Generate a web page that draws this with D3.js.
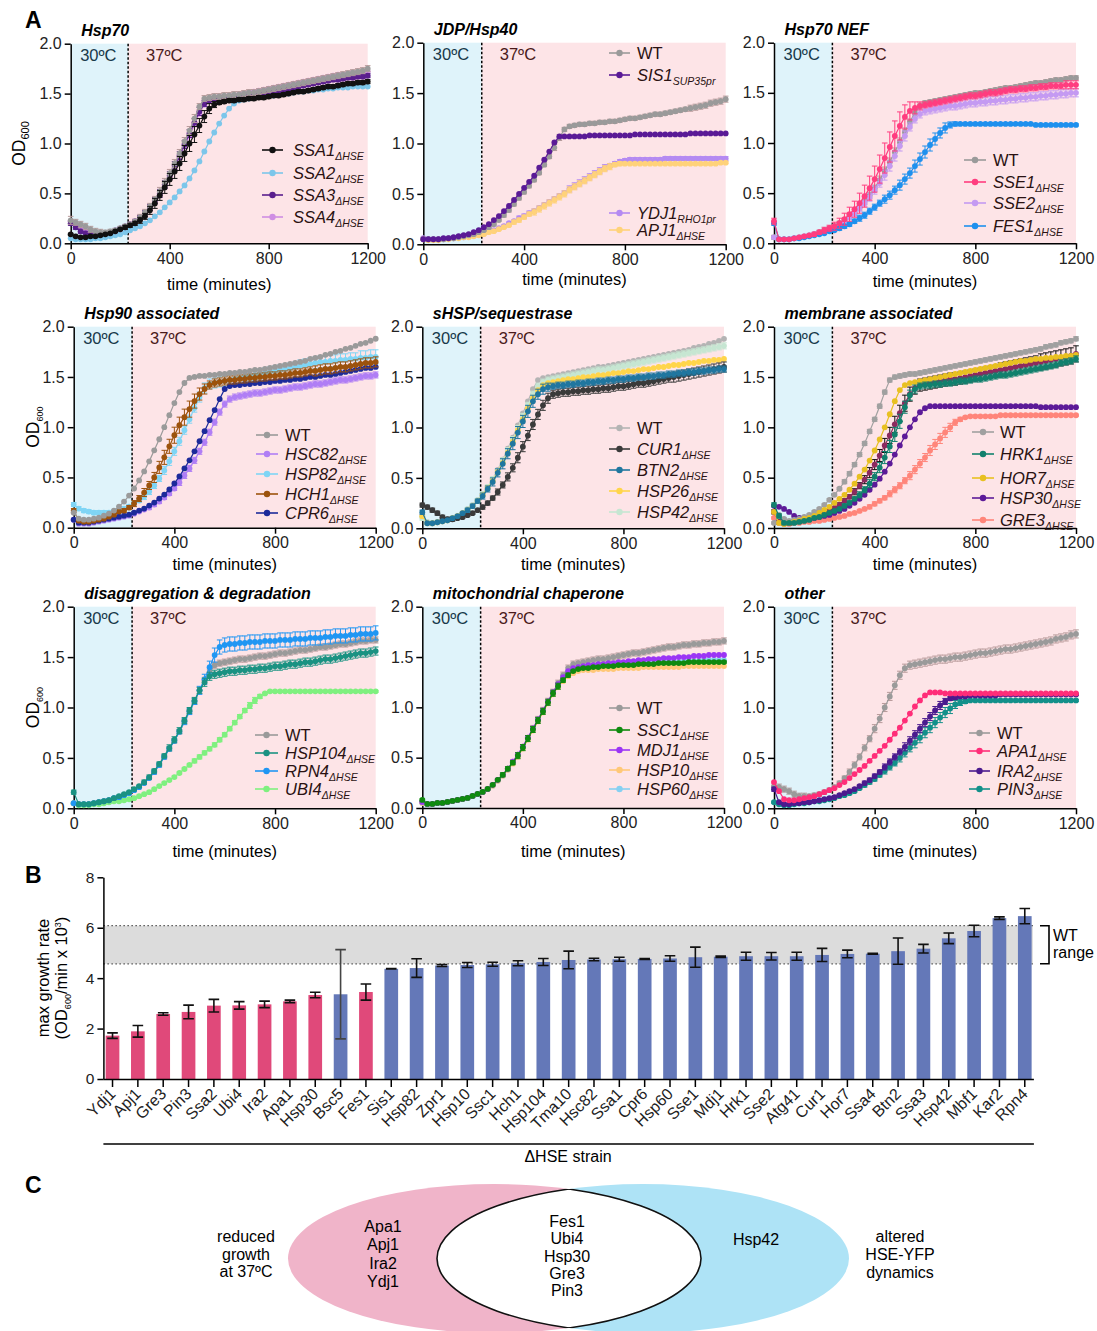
<!DOCTYPE html>
<html><head><meta charset="utf-8">
<script src="https://cdn.jsdelivr.net/npm/d3@7"></script>
<style>
body{margin:0;background:#fff}
svg{display:block}
text{font-family:"Liberation Sans",Arial,Helvetica,sans-serif}
</style>
</head><body>
<svg id="c" width="1097" height="1331"></svg>
<script>
// ---------------- DATA (OD600 x100, sampled every 20 min) ----------------
const timeMin = d3.range(0, 1201, 20);
const shiftTime = 232;

// Hsp70
const hsp70_WT = [23,21,19,17,14,12,11,11,12,13, 15,17,19,22,26,31,37,44,52,61, 70,80,90,102,113,125,137,145,146,147, 147,148,148,149,149,150,151,151,152,153, 154,155,156,157,158,159,160,161,162,163, 164,165,166,167,168,169,170,171,172,173, 175];
const hsp70_SSA1 = [9,7,6,6,7,7,8,9,10,12, 14,16,18,20,23,27,33,40,48,56, 64,72,80,90,100,109,118,127,135,139, 141,142,143,143,144,144,145,145,146,146, 147,148,148,149,150,151,152,152,153,154, 155,156,157,157,158,159,160,160,161,161, 162];
const hsp70_SSA2 = [5,4,4,4,4,5,5,6,7,8, 9,11,13,15,17,20,23,27,31,36, 41,46,52,58,65,73,82,92,102,111, 120,128,135,140,143,144,145,146,147,147, 148,148,149,150,150,151,152,152,153,153, 154,154,155,155,156,156,156,157,157,157, 157];
const hsp70_SSA3 = [20,16,12,10,9,9,9,10,11,13, 15,17,19,22,26,30,36,43,50,59, 68,78,88,99,110,121,132,140,143,144, 145,146,146,147,147,148,149,149,150,151, 152,152,153,154,155,156,157,158,159,160, 161,162,163,164,164,165,166,166,167,167, 168];
const hsp70_SSA4 = [22,19,16,13,11,10,10,10,11,12, 14,16,19,22,25,30,35,42,49,57, 66,76,86,97,108,119,130,139,144,146, 147,147,148,148,149,150,151,152,153,154, 155,156,157,158,159,160,161,162,163,164, 165,166,167,168,169,169,170,171,171,172, 172];
// JDP/Hsp40
const hsp40_WT = [5,5,5,5,5,6,6,7,8,9, 10,12,14,17,20,24,29,34,40,46, 52,58,64,71,79,87,96,106,114,117, 118,119,119,120,120,121,121,122,122,123, 124,125,125,126,127,128,129,129,130,131, 132,133,134,135,136,137,138,140,141,142, 144];
const hsp40_SIS1 = [5,5,5,5,6,6,7,8,9,10, 12,14,17,20,24,28,33,38,44,50, 56,62,68,76,84,92,101,107,107,107, 107,107,107,108,108,108,108,108,108,108, 108,108,109,109,109,109,109,109,109,109, 109,109,109,110,110,110,110,110,110,110, 110];
const hsp40_YDJ1 = [6,5,5,5,5,6,6,7,7,8, 9,10,11,13,14,16,18,21,23,26, 28,31,33,36,39,42,45,48,51,55, 58,61,64,67,70,73,76,78,80,82, 83,84,84,84,84,84,84,84,85,85, 85,85,85,85,85,85,85,85,85,85, 85];
const hsp40_APJ1 = [5,4,4,4,5,5,6,6,7,7, 8,9,10,12,13,15,17,19,22,24, 27,30,32,35,38,41,44,47,50,54, 57,60,63,66,69,72,75,77,79,80, 80,80,80,80,80,80,80,80,80,80, 80,80,80,80,80,80,80,80,80,81, 81];
// Hsp70 NEF
const nef_WT = [6,4,4,4,5,6,7,8,9,11, 13,15,17,20,23,27,31,36,42,48, 55,63,72,81,91,101,111,121,130,137, 140,141,142,143,144,145,146,147,148,149, 150,150,151,152,153,154,155,155,156,157, 158,159,160,160,161,162,163,163,164,165, 165];
const nef_SSE1 = [22,4,4,4,5,6,7,8,9,11, 13,15,17,20,24,29,34,40,47,55, 64,74,85,96,107,117,126,132,135,137, 138,139,140,141,142,143,144,145,146,147, 147,148,149,150,150,151,152,153,153,154, 154,155,155,156,156,157,157,157,158,158, 158];
const nef_SSE2 = [6,4,4,4,5,6,7,8,9,10, 12,14,16,19,22,26,30,35,40,46, 53,60,68,77,87,97,107,116,124,129, 132,133,134,135,136,137,137,138,139,140, 140,141,141,142,142,143,143,144,144,145, 145,146,146,147,147,148,148,149,149,150, 150];
const nef_FES1 = [20,4,4,4,5,5,6,7,8,9, 10,12,13,15,17,19,22,25,28,32, 36,40,44,48,53,58,64,70,77,84, 91,98,104,110,115,118,119,119,119,119, 119,119,119,119,119,119,119,119,119,119, 119,119,118,118,118,118,118,118,118,118, 118];
// Hsp90 associated
const hsp90_WT = [15,9,8,8,9,10,12,14,17,21, 26,32,39,47,56,66,77,88,100,112, 124,135,144,149,150,151,151,152,152,153, 153,154,154,155,155,156,157,157,158,159, 160,161,162,163,164,165,166,168,169,170, 172,173,175,176,178,179,181,183,184,186, 188];
const hsp90_HSC82 = [8,4,4,4,5,6,7,8,9,10, 11,12,14,16,18,20,23,26,30,34, 39,45,52,59,67,76,85,95,105,115, 123,128,130,131,132,133,134,134,135,136, 137,137,138,139,140,140,141,142,143,143, 144,145,146,147,147,148,149,150,151,151, 152];
const hsp90_HSP82 = [23,19,17,16,15,15,15,15,16,17, 19,21,24,27,31,36,42,49,57,66, 76,86,97,108,119,130,139,143,144,145, 146,147,148,149,150,151,152,153,154,155, 156,157,158,159,160,161,162,163,164,165, 165,166,166,167,167,168,168,169,169,170, 170];
const hsp90_HCH1 = [17,7,6,6,7,8,9,11,13,16, 17,20,24,29,35,42,50,60,70,81, 92,102,110,118,126,133,138,142,144,145, 146,147,147,148,148,149,149,150,150,151, 151,152,152,153,154,154,155,156,156,157, 158,158,159,160,160,161,162,163,164,164, 165];
const hsp90_CPR6 = [8,5,5,5,6,7,8,9,10,11, 12,13,15,17,19,22,25,29,33,38, 44,51,59,67,76,86,96,107,117,128, 138,141,142,142,143,143,144,144,145,145, 146,146,147,147,148,148,149,150,150,151, 152,152,153,154,155,156,157,158,159,159, 160];
// sHSP/sequestrase
const shsp_WT = [12,6,5,6,7,8,10,12,15,19, 23,28,34,41,49,58,68,79,90,102, 114,126,138,147,149,150,151,152,153,154, 155,156,157,158,159,160,160,161,162,163, 164,165,166,167,168,169,170,171,172,173, 174,175,176,177,179,180,181,183,184,186, 188];
const shsp_CUR1 = [23,21,18,15,11,9,9,10,11,13, 15,18,21,25,30,36,43,51,60,70, 81,92,103,113,122,129,133,134,135,135, 136,136,137,137,138,138,139,139,140,141, 141,142,143,144,144,145,146,147,148,149, 150,151,152,153,154,155,156,157,158,159, 160];
const shsp_BTN2 = [16,5,5,6,7,8,10,12,15,18, 22,27,32,39,46,55,64,74,84,95, 106,116,126,133,138,140,141,142,142,143, 143,144,144,145,145,146,146,147,147,148, 148,149,149,150,150,151,151,152,152,153, 153,154,154,155,155,156,156,157,157,158, 158];
const shsp_HSP26 = [12,5,5,6,7,8,10,12,15,18, 22,27,33,40,47,56,65,75,86,97, 108,119,129,137,142,144,145,146,147,148, 148,149,150,150,151,152,152,153,154,154, 155,156,156,157,158,158,159,160,160,161, 162,162,163,164,164,165,166,166,167,167, 168];
const shsp_HSP42 = [10,6,5,6,7,8,10,12,15,19, 23,28,34,41,49,57,67,77,88,99, 111,122,133,141,145,147,148,149,150,151, 152,153,154,155,156,157,157,158,159,160, 161,162,163,164,165,166,167,168,169,170, 171,172,173,174,175,176,177,178,179,180, 181];
// membrane associated
const mem_WT = [5,13,9,7,8,9,11,13,16,19, 23,28,33,39,46,54,63,73,84,96, 108,121,135,147,150,151,152,153,153,154, 155,156,157,158,159,160,161,162,163,164, 165,166,167,168,169,170,171,172,173,174, 175,176,177,178,180,181,182,184,185,186, 188];
const mem_other = [16,6,5,5,6,7,8,9,11,13, 15,17,20,23,27,31,36,42,48,55, 63,72,82,92,103,114,124,133,139,142, 143,144,145,146,147,148,148,149,150,151, 152,153,154,155,156,157,158,159,160,161, 162,163,164,165,166,167,168,169,170,171, 173];
const mem_HRK1 = [23,12,5,5,5,6,7,8,10,11, 13,15,17,19,22,25,29,33,38,44, 51,60,70,81,93,106,120,132,138,141, 142,142,143,143,144,144,145,146,146,147, 148,148,149,150,151,152,152,153,154,155, 156,157,158,159,160,161,162,164,165,166, 168];
const mem_HOR7 = [16,5,4,5,6,7,9,10,12,15, 18,21,25,29,33,38,44,51,58,67, 77,88,100,113,126,137,142,144,145,146, 147,148,149,150,151,152,153,154,155,156, 157,158,159,160,161,162,163,164,165,166, 166,167,168,168,169,169,170,170,171,171, 172];
const mem_HSP30 = [22,21,19,16,12,10,9,9,10,11, 12,13,15,17,19,22,25,29,33,38, 43,49,56,64,73,82,91,100,108,115, 119,121,121,121,121,121,121,121,121,121, 121,121,121,121,121,121,121,121,121,121, 121,121,121,120,120,120,120,120,120,120, 120];
const mem_GRE3 = [10,5,4,4,5,5,6,6,7,7, 8,9,10,11,12,14,15,17,19,21, 24,27,30,34,38,42,47,52,58,64, 70,77,83,89,95,100,105,108,110,111, 111,111,111,111,111,112,112,112,112,112, 112,112,112,112,112,112,112,112,112,112, 112];
// disaggregation & degradation
const deg_WT = [5,4,4,4,5,6,7,8,10,11, 13,15,18,21,25,30,36,43,51,59, 67,76,86,96,106,117,127,135,142,144, 145,146,147,148,148,149,150,151,151,152, 153,154,154,155,156,157,157,158,159,160, 160,161,162,163,163,164,165,166,166,167, 167];
const deg_HSP104 = [16,4,4,4,5,6,7,8,10,12, 14,16,19,22,26,31,37,44,52,60, 68,77,87,97,107,117,125,131,133,134, 135,136,136,137,137,138,138,139,139,140, 141,141,142,143,143,144,145,145,146,147, 148,148,149,150,151,152,153,154,154,155, 156];
const deg_RPN4 = [5,4,4,4,5,6,7,8,10,11, 13,15,18,21,25,30,36,43,51,59, 67,76,86,96,106,117,128,140,152,160, 162,163,163,164,164,165,165,165,166,166, 166,167,167,167,168,168,168,169,169,169, 170,170,171,171,171,172,172,173,173,173, 174];
const deg_UBI4 = [5,3,3,3,4,4,5,6,7,7, 8,9,10,12,14,16,19,22,25,28, 31,35,39,43,47,51,55,59,63,68, 73,79,85,91,97,102,107,111,114,116, 116,116,116,116,116,116,116,116,116,116, 116,116,116,116,116,116,116,116,116,116, 116];
// mitochondrial chaperone
const mito_WT = [6,4,4,5,5,6,7,8,9,10, 12,14,16,19,23,28,33,39,46,53, 61,70,79,88,97,106,115,124,132,139, 143,144,145,146,147,148,148,149,150,151, 152,153,154,154,155,156,157,158,159,160, 160,161,162,162,163,163,164,164,165,165, 166];
const mito_SSC1 = [8,4,4,5,5,6,7,8,9,10, 12,14,16,19,23,28,33,39,45,52, 60,69,78,87,96,105,114,121,127,132, 136,138,139,139,140,140,141,141,141,142, 142,142,142,143,143,143,143,144,144,144, 144,144,144,145,145,145,145,145,145,145, 145];
const mito_MDJ1 = [6,4,4,5,5,6,7,8,9,10, 12,14,16,19,23,28,33,39,46,53, 61,70,79,88,97,106,115,123,130,136, 139,140,141,142,142,143,143,144,144,145, 145,146,146,147,147,148,148,148,149,149, 149,150,150,150,151,151,151,152,152,152, 152];
const mito_HSP10 = [5,4,4,5,5,6,7,8,9,10, 12,14,16,19,22,27,32,38,44,51, 59,68,77,86,95,104,113,120,126,131, 134,136,137,137,137,138,138,138,138,139, 139,139,139,139,140,140,140,140,140,140, 140,140,141,141,141,141,141,141,141,141, 141];
const mito_HSP60 = [5,4,4,5,5,6,7,8,9,10, 12,14,16,19,22,27,32,38,45,52, 60,69,78,87,96,105,114,121,127,132, 135,137,138,139,139,140,140,141,141,142, 142,142,143,143,143,144,144,144,145,145, 145,145,146,146,146,146,147,147,147,147, 147];
// other
const oth_WT = [22,21,19,17,14,12,12,12,13,14, 16,18,21,25,30,36,43,51,60,69, 79,89,100,111,122,132,139,142,143,144, 145,146,147,148,148,149,150,150,151,152, 153,154,154,155,156,157,158,158,159,160, 161,162,163,164,165,166,168,169,170,172, 173];
const oth_APA1 = [26,17,9,8,8,9,10,11,12,14, 16,18,20,23,26,30,34,38,42,47, 52,57,62,68,74,80,87,94,101,107, 112,115,115,115,114,114,114,114,114,114, 114,114,114,114,114,114,114,114,114,114, 114,114,114,114,114,114,114,114,114,114, 114];
const oth_IRA2 = [19,6,4,4,5,5,6,6,7,8, 9,10,11,13,15,17,19,22,25,28, 32,36,41,46,51,56,61,67,73,79, 85,91,97,102,106,109,110,111,111,112, 112,112,112,112,112,113,113,113,113,113, 113,113,113,113,113,113,113,113,113,113, 113];
const oth_PIN3 = [6,4,3,3,4,5,5,6,7,7, 8,9,10,12,13,15,17,20,23,26, 29,33,37,41,45,50,55,60,65,70, 75,80,85,90,95,99,103,105,106,107, 107,107,107,107,107,107,107,107,107,107, 107,107,107,107,107,107,107,107,107,107, 107];

// error bars (SD x100)
const err_hsp70_WT = [4,3,3,3,3,3,3,2,2,2, 2,2,2,2,3,3,3,3,4,4, 4,4,4,4,4,4,3,3,3,3, 3,3,3,3,3,3,3,3,3,3, 3,3,3,3,3,3,3,3,3,3, 3,3,3,3,3,3,3,3,3,3, 3];
const err_hsp70_SSA1 = [1,1,1,1,1,1,1,1,1,1, 1,2,2,2,3,3,4,5,5,6, 6,7,7,8,8,8,7,6,5,3, 2,2,2,2,2,2,2,2,2,2, 2,2,2,2,2,2,2,2,2,2, 2,2,2,2,2,2,2,2,2,2, 2];
const err_hsp70_SSA3 = [2,2,2,2,1,1,1,1,1,1, 1,1,2,2,2,3,3,3,4,4, 4,4,4,4,4,4,4,3,3,2, 2,2,2,2,2,2,2,2,2,2, 2,2,2,2,2,2,2,2,2,2, 2,2,2,2,2,2,2,2,2,2, 2];
const err_hsp40_WT = [1,1,1,1,1,1,1,1,1,1, 1,1,1,1,1,1,2,2,2,2, 2,2,2,2,2,2,3,3,2,2, 2,2,2,2,2,2,2,2,2,2, 2,2,2,2,2,2,2,2,2,2, 2,2,2,3,3,3,3,3,3,3, 3];
const err_hsp40_YDJ1 = [1,1,1,1,1,1,1,1,1,1, 1,1,1,1,1,1,1,1,1,2, 2,2,2,2,2,2,2,2,2,3, 3,3,3,3,3,3,3,2,2,2, 2,2,2,2,2,2,2,2,2,2, 2,2,2,2,2,2,2,2,2,2, 2];
const err_hsp40_APJ1 = [1,1,1,1,1,1,1,1,1,1, 1,1,1,1,1,1,1,1,2,2, 2,2,3,3,3,3,3,3,3,3, 3,3,3,3,3,3,3,3,2,2, 1,1,1,1,1,1,1,1,1,1, 1,1,1,1,1,1,1,1,1,1, 1];
const err_nef_WT = [2,1,1,1,1,1,1,1,1,1, 1,1,2,2,2,2,3,3,3,3, 3,4,4,4,4,4,4,3,3,3, 2,2,2,2,2,2,2,2,2,2, 2,2,2,2,2,2,2,2,2,2, 2,2,2,2,2,2,2,2,2,2, 2];
const err_nef_SSE1 = [3,1,1,1,1,1,1,1,2,2, 3,3,4,5,6,7,8,10,11,12, 13,14,15,15,15,14,12,9,6,4, 3,3,3,3,3,3,3,3,3,3, 3,3,3,3,3,3,3,3,3,3, 3,3,3,3,3,3,3,3,4,4, 4];
const err_nef_SSE2 = [1,1,1,1,1,1,1,1,1,1, 1,1,1,2,2,2,3,3,3,4, 4,4,5,5,5,5,5,4,4,4, 4,4,4,4,4,4,4,4,4,4, 4,4,4,4,4,4,4,4,4,4, 4,4,4,4,4,4,4,4,4,4, 4];
const err_nef_FES1 = [2,1,1,1,1,1,1,1,1,1, 1,1,1,2,2,2,2,3,3,3, 3,3,4,4,4,5,5,5,6,6, 6,6,6,5,5,3,2,1,1,1, 1,1,1,1,1,1,1,1,1,1, 1,1,1,1,1,1,1,1,1,1, 1];
const err_hsp90_HCH1 = [2,1,1,1,1,1,1,1,1,1, 2,2,3,3,4,4,5,6,7,7, 8,8,8,8,7,6,5,4,4,4, 4,4,4,4,4,4,4,4,4,4, 4,4,4,4,4,4,4,4,5,5, 5,5,5,5,5,5,5,5,5,5, 5];
const err_hsp90_HSP82 = [2,2,2,2,2,2,2,2,2,2, 2,2,2,2,3,3,3,3,4,4, 4,4,4,4,4,5,5,5,5,5, 5,5,5,5,5,5,5,5,5,5, 5,5,5,5,5,6,6,6,6,6, 6,6,6,6,6,6,6,7,7,7, 7];
const err_hsp90_HSC82 = [1,1,1,1,1,1,1,1,1,1, 1,1,1,1,1,2,2,2,2,2, 2,3,3,3,3,3,3,3,3,3, 3,3,3,3,3,3,3,3,3,3, 3,3,3,3,3,3,3,3,3,3, 3,3,3,3,3,3,3,3,3,3, 3];
const err_shsp_CUR1 = [2,2,2,2,2,2,2,1,1,1, 1,1,2,2,2,3,3,4,4,5, 5,5,5,5,5,5,4,4,4,4, 4,4,4,4,4,4,4,4,4,4, 4,4,4,4,4,4,4,4,4,4, 5,5,5,5,5,5,5,5,5,5, 5];
const err_shsp_BTN2 = [2,1,1,1,1,1,1,1,1,2, 2,2,3,3,4,4,5,5,6,6, 6,6,6,5,5,4,3,3,3,3, 3,3,3,3,3,3,3,3,3,3, 3,3,3,3,3,3,3,3,3,3, 3,3,3,3,3,3,3,3,3,3, 3];
const err_shsp_HSP42 = [2,1,1,1,1,1,1,1,1,1, 1,1,2,2,2,2,3,3,3,3, 3,3,3,3,3,3,3,3,3,3, 3,3,3,3,3,3,3,3,3,3, 3,3,3,3,3,3,3,3,3,3, 3,3,3,3,3,3,3,3,3,3, 3];
const err_mem_WT = [1,1,1,1,1,1,1,1,1,1, 1,1,1,1,2,2,2,2,2,2, 2,2,2,2,2,2,2,2,2,2, 2,2,2,2,2,2,2,2,2,2, 2,2,2,2,2,2,2,2,2,2, 2,2,2,2,2,2,2,2,2,2, 2];
const err_mem_other = [2,2,2,2,2,2,1,1,1,1, 1,1,1,2,2,2,3,3,4,5, 5,6,7,8,8,8,8,7,6,6, 6,6,6,6,6,6,6,6,6,6, 6,6,6,6,6,7,7,7,7,7, 7,7,7,8,8,8,8,8,8,8, 8];
const err_mem_HRK1 = [2,2,1,1,1,1,1,1,1,1, 1,1,1,1,2,2,2,3,3,4, 4,5,6,6,7,7,6,5,4,3, 3,3,3,3,3,3,3,3,3,3, 3,3,3,3,3,3,3,3,3,3, 3,3,3,3,3,3,3,3,3,3, 3];
const err_mem_GRE3 = [1,1,1,1,1,1,1,1,1,1, 1,1,1,1,1,1,1,1,1,2, 2,2,2,3,3,3,3,4,4,4, 4,5,5,5,5,4,3,2,1,1, 1,1,1,1,1,1,1,1,1,1, 1,1,1,1,1,1,1,1,1,1, 1];
const err_deg_WT = [1,1,1,1,1,1,1,1,1,1, 1,1,1,1,1,1,2,2,2,2, 2,2,2,2,3,3,3,3,3,3, 3,3,3,3,3,3,3,3,3,3, 3,3,3,3,3,3,3,3,3,3, 3,3,3,3,3,3,3,3,3,3, 3];
const err_deg_HSP104 = [2,1,1,1,1,1,1,1,1,1, 1,1,1,1,2,2,2,2,2,3, 3,3,3,3,3,3,4,4,4,4, 4,4,4,4,4,4,4,4,4,4, 4,4,4,4,4,4,4,4,4,4, 4,4,4,4,4,4,4,4,4,4, 4];
const err_deg_RPN4 = [1,1,1,1,1,1,1,1,1,1, 1,1,1,1,1,1,2,2,2,2, 2,2,3,3,3,4,5,6,7,7, 7,7,7,7,7,7,7,7,7,7, 7,7,7,7,7,7,7,7,7,7, 7,7,7,7,7,7,7,7,7,7, 7];
const err_deg_UBI4 = [1,1,1,1,1,1,1,1,1,1, 1,1,1,1,1,1,1,1,1,1, 1,1,1,1,2,2,2,2,2,2, 2,2,2,2,2,3,3,2,1,1, 1,1,1,1,1,1,1,1,1,1, 1,1,1,1,1,1,1,1,1,1, 1];
const err_mito_WT = [1,1,1,1,1,1,1,1,1,1, 1,1,1,1,1,1,1,2,2,2, 2,2,3,3,3,3,3,3,3,3, 3,3,3,3,3,3,3,3,3,3, 3,3,3,3,3,3,3,3,3,3, 3,3,3,3,3,3,3,3,3,3, 3];
const err_mito_SSC1 = [1,1,1,1,1,1,1,1,1,1, 1,1,1,1,1,1,2,2,2,3, 3,3,3,3,3,3,3,3,2,2, 1,1,1,1,1,1,1,1,1,1, 1,1,1,1,1,1,1,1,1,1, 1,1,1,1,1,1,1,1,1,1, 1];
const err_oth_WT = [3,3,3,3,3,3,3,2,2,2, 2,2,2,2,2,3,3,3,3,3, 4,4,4,4,4,4,4,4,4,4, 4,4,4,4,4,4,4,4,4,4, 4,4,4,4,4,4,4,4,4,4, 4,4,4,4,4,4,4,4,4,4, 4];
const err_oth_IRA2 = [2,1,1,1,1,1,1,1,1,1, 1,1,1,1,1,1,1,1,2,2, 2,2,3,3,3,3,4,4,4,4, 4,4,4,4,3,2,2,1,1,1, 1,1,1,1,1,1,1,1,1,1, 1,1,1,1,1,1,1,1,1,1, 1];
const err_oth_PIN3 = [1,1,1,1,1,1,1,1,1,1, 1,1,1,1,1,1,1,1,2,2, 2,2,3,3,3,4,4,4,5,5, 5,5,5,5,5,5,4,3,2,1, 1,1,1,1,1,1,1,1,1,1, 1,1,1,1,1,1,1,1,1,1, 1];

// Panel B
const strains = ["Ydj1","Apj1","Gre3","Pin3","Ssa2","Ubi4","Ira2","Apa1","Hsp30","Bsc5","Fes1","Sis1","Hsp82","Zpr1","Hsp10","Ssc1","Hch1","Hsp104","Tma10","Hsc82","Ssa1","Cpr6","Hsp60","Sse1","Mdj1","Hrk1","Sse2","Atg41","Cur1","Hor7","Ssa4","Btn2","Ssa3","Hsp42","Mbf1","Kar2","Rpn4"];
const growthRate = [1.72,1.89,2.58,2.66,2.91,2.92,2.96,3.08,3.33,3.36,3.45,4.37,4.40,4.50,4.52,4.55,4.59,4.64,4.72,4.74,4.75,4.76,4.78,4.83,4.85,4.87,4.87,4.87,4.92,4.96,4.97,5.07,5.17,5.58,5.87,6.38,6.46];
const growthErr = [0.11,0.23,0.05,0.27,0.25,0.15,0.13,0.05,0.11,1.77,0.32,0.01,0.37,0.04,0.10,0.08,0.10,0.14,0.35,0.05,0.08,0.02,0.11,0.40,0.03,0.16,0.15,0.16,0.26,0.15,0.02,0.52,0.17,0.21,0.23,0.05,0.30];
const reducedGrowthStrains = ["Ydj1","Apj1","Gre3","Pin3","Ssa2","Ubi4","Ira2","Apa1","Hsp30","Fes1"];
const wtRange = [4.57, 6.08];
const yTicksB = [0,2,4,6,8];

// Panel C
const vennLeftOnly = ["Apa1","Apj1","Ira2","Ydj1"];
const vennBoth = ["Fes1","Ubi4","Hsp30","Gre3","Pin3"];
const vennRightOnly = ["Hsp42"];
const vennLeftLabel = ["reduced","growth","at 37ºC"];
const vennRightLabel = ["altered","HSE-YFP","dynamics"];

// ---------------- PANEL DEFINITIONS (layout + style) ----------------
const H = "ΔHSE";
const panels = [
 {title:"Hsp70", box:[70.7,367.7,43.7,243.3], od:{x:19,sub:11}, xlabY:290,
  series:[{v:hsp70_SSA2,c:"#7cc6ea"},{v:hsp70_SSA4,c:"#cf8ee3"},{v:hsp70_SSA3,c:"#5a1f8e",e:err_hsp70_SSA3},{v:hsp70_WT,c:"#9a9a9a",e:err_hsp70_WT,ec:"#b79a9a"},{v:hsp70_SSA1,c:"#111111",e:err_hsp70_SSA1}],
  legend:{lx0:262,lx1:283,tx:293,items:[["SSA1",H,"#111111",150],["SSA2",H,"#7cc6ea",173],["SSA3",H,"#5a1f8e",195],["SSA4",H,"#cf8ee3",217]]}},
 {title:"JDP/Hsp40", box:[423.3,725.7,42.7,244.3], xlabY:285,
  series:[{v:hsp40_YDJ1,c:"#b48af2",e:err_hsp40_YDJ1},{v:hsp40_APJ1,c:"#ffd27a",e:err_hsp40_APJ1},{v:hsp40_WT,c:"#9a9a9a",e:err_hsp40_WT,ec:"#b79a9a"},{v:hsp40_SIS1,c:"#5a1a96"}],
  legend:{lx0:609,lx1:630,tx:637,items:[["WT","","#9a9a9a",53],["SIS1","SUP35pr","#5a1a96",75],["YDJ1","RHO1pr","#b48af2",213],["APJ1",H,"#ffd27a",230]]}},
 {title:"Hsp70 NEF", box:[774,1076,42.7,243.3], xlabY:287,
  series:[{v:nef_WT,c:"#9a9a9a",e:err_nef_WT,ec:"#b79a9a"},{v:nef_SSE2,c:"#c49af2",e:err_nef_SSE2},{v:nef_FES1,c:"#1e90ee",e:err_nef_FES1},{v:nef_SSE1,c:"#ff3d7f",e:err_nef_SSE1}],
  legend:{lx0:964,lx1:986,tx:993,items:[["WT","","#9a9a9a",160],["SSE1",H,"#ff3d7f",182],["SSE2",H,"#c49af2",203],["FES1",H,"#1e90ee",226]]}},
 {title:"Hsp90 associated", box:[73.7,375.7,326.7,527.7], od:{x:33,sub:9}, xlabY:570,
  series:[{v:hsp90_HSP82,c:"#7fd5f5",e:err_hsp90_HSP82},{v:hsp90_HSC82,c:"#b07ef5",e:err_hsp90_HSC82},{v:hsp90_CPR6,c:"#1c2a9a"},{v:hsp90_HCH1,c:"#9c520c",e:err_hsp90_HCH1},{v:hsp90_WT,c:"#9a9a9a"}],
  legend:{lx0:256,lx1:278,tx:285,items:[["WT","","#9a9a9a",435],["HSC82",H,"#b07ef5",454],["HSP82",H,"#7fd5f5",474],["HCH1",H,"#9c520c",494],["CPR6",H,"#1c2a9a",513]]}},
 {title:"sHSP/sequestrase", box:[422.3,724,326.7,528.3], xlabY:570,
  series:[{v:shsp_WT,c:"#b4b4b4"},{v:shsp_HSP42,c:"#c6e6d2",e:err_shsp_HSP42},{v:shsp_HSP26,c:"#ffd54a"},{v:shsp_CUR1,c:"#3a3a3a",e:err_shsp_CUR1},{v:shsp_BTN2,c:"#20769f",e:err_shsp_BTN2}],
  legend:{lx0:609,lx1:630,tx:637,items:[["WT","","#b4b4b4",428],["CUR1",H,"#3a3a3a",449],["BTN2",H,"#20769f",470],["HSP26",H,"#ffd54a",491],["HSP42",H,"#c6e6d2",512]]}},
 {title:"membrane associated", box:[774,1076,326.7,528], xlabY:570,
  series:[{v:mem_GRE3,c:"#ff857a",e:err_mem_GRE3},{v:mem_HSP30,c:"#5c1a98"},{v:mem_other,c:"#8c2a5e",e:err_mem_other,ec:"#111111"},{v:mem_WT,c:"#a0a0a0",e:err_mem_WT},{v:mem_HOR7,c:"#e8c020"},{v:mem_HRK1,c:"#11806d",e:err_mem_HRK1}],
  legend:{lx0:972,lx1:994,tx:1000,items:[["WT","","#a0a0a0",432],["HRK1",H,"#11806d",454],["HOR7",H,"#e8c020",478],["HSP30",H,"#5c1a98",498],["GRE3",H,"#ff857a",520]]}},
 {title:"disaggregation & degradation", box:[73.7,375.7,606.7,808.3], od:{x:33,sub:9}, xlabY:857,
  series:[{v:deg_UBI4,c:"#7ff07f",e:err_deg_UBI4},{v:deg_WT,c:"#9a9a9a",e:err_deg_WT,ec:"#b79a9a"},{v:deg_RPN4,c:"#2096f3",e:err_deg_RPN4},{v:deg_HSP104,c:"#1a9282",e:err_deg_HSP104}],
  legend:{lx0:255,lx1:278,tx:285,items:[["WT","","#9a9a9a",735],["HSP104",H,"#1a9282",753],["RPN4",H,"#2096f3",771],["UBI4",H,"#7ff07f",789]]}},
 {title:"mitochondrial chaperone", box:[422.3,724,606.7,808], xlabY:857,
  series:[{v:mito_HSP60,c:"#86d0f2"},{v:mito_HSP10,c:"#ffc878"},{v:mito_WT,c:"#9a9a9a",e:err_mito_WT,ec:"#b79a9a"},{v:mito_MDJ1,c:"#9b35f5"},{v:mito_SSC1,c:"#0f8a0f",e:err_mito_SSC1}],
  legend:{lx0:609,lx1:630,tx:637,items:[["WT","","#9a9a9a",708],["SSC1",H,"#0f8a0f",730],["MDJ1",H,"#9b35f5",750],["HSP10",H,"#ffc878",770],["HSP60",H,"#86d0f2",789]]}},
 {title:"other", box:[774,1076,606.7,808.3], xlabY:857,
  series:[{v:oth_WT,c:"#9a9a9a",e:err_oth_WT,ec:"#b79a9a"},{v:oth_PIN3,c:"#12908a",e:err_oth_PIN3},{v:oth_IRA2,c:"#4b1a8e",e:err_oth_IRA2},{v:oth_APA1,c:"#ff2d78"}],
  legend:{lx0:969,lx1:990,tx:997,items:[["WT","","#9a9a9a",733],["APA1",H,"#ff2d78",751],["IRA2",H,"#4b1a8e",771],["PIN3",H,"#12908a",789]]}}
];

// ---------------- DRAW ----------------
const svg = d3.select("#c");
const styleAxis = (g, fs) => {
  g.select(".domain").attr("stroke","#000").attr("stroke-width",1.5);
  g.selectAll(".tick line").attr("stroke","#000").attr("stroke-width",1.5);
  g.selectAll(".tick text").attr("font-size",fs).attr("fill","#222").attr("font-family",'"Liberation Sans",Arial,sans-serif');
};

svg.append("text").attr("x",25).attr("y",28).attr("font-size",23).attr("font-weight","bold").text("A");

panels.forEach(p => {
  const [x0,x1,yT,yB] = p.box;
  const x = d3.scaleLinear().domain([0,1200]).range([x0,x1]);
  const y = d3.scaleLinear().domain([0,2]).range([yB,yT]);
  const g = svg.append("g");
  g.append("rect").attr("x",x(0)).attr("y",yT).attr("width",x(shiftTime)-x(0)).attr("height",yB-yT).attr("fill","#dff3fa");
  g.append("rect").attr("x",x(shiftTime)).attr("y",yT).attr("width",x(1200)-x(shiftTime)).attr("height",yB-yT).attr("fill","#fde4e7");
  g.append("line").attr("x1",x(shiftTime)).attr("x2",x(shiftTime)).attr("y1",yT).attr("y2",yB)
    .attr("stroke","#000").attr("stroke-width",1.5).attr("stroke-dasharray","2.5,2");
  g.append("text").attr("x",x0+9.5).attr("y",yT+17).attr("font-size",16.5).attr("fill","#17394a").text("30ºC");
  g.append("text").attr("x",x(shiftTime)+18).attr("y",yT+17).attr("font-size",16.5).attr("fill","#4a1a1a").text("37ºC");

  const ya = g.append("g").attr("transform",`translate(${x0},0)`)
    .call(d3.axisLeft(y).tickValues([0,0.5,1,1.5,2]).tickFormat(d3.format(".1f")).tickSize(6).tickSizeOuter(0).tickPadding(3));
  styleAxis(ya, 16);
  const xa = g.append("g").attr("transform",`translate(0,${yB})`)
    .call(d3.axisBottom(x).tickValues([0,400,800,1200]).tickFormat(d3.format("d")).tickSize(6).tickSizeOuter(0).tickPadding(3));
  styleAxis(xa, 16);

  p.series.forEach(s => {
    const pts = timeMin.map((t,i) => ({t, v:s.v[i]/100, e: s.e ? s.e[i]/100 : 0})).filter(d => !isNaN(d.v));
    const sg = g.append("g");
    if (s.e) {
      const ec = s.ec || s.c;
      pts.filter(d => d.e > 0).forEach(d => {
        const cx = x(d.t), ya1 = y(d.v + d.e), ya2 = y(Math.max(0, d.v - d.e));
        sg.append("path").attr("d",`M${cx},${ya1}V${ya2}M${cx-2.8},${ya1}H${cx+2.8}M${cx-2.8},${ya2}H${cx+2.8}`)
          .attr("stroke",ec).attr("stroke-width",1).attr("fill","none");
      });
    }
    sg.append("path").datum(pts).attr("d", d3.line().x(d=>x(d.t)).y(d=>y(d.v)))
      .attr("fill","none").attr("stroke",s.c).attr("stroke-width",1.2);
    sg.selectAll("circle").data(pts).join("circle")
      .attr("cx",d=>x(d.t)).attr("cy",d=>y(d.v)).attr("r",2.9).attr("fill",s.c);
  });

  // title
  g.append("text").attr("x",x0+10.5).attr("y",yT-7.5).attr("font-size",16).attr("font-weight","bold")
    .attr("font-style","italic").text(p.title);
  // x label
  g.append("text").attr("x",(x0+x1)/2).attr("y",p.xlabY).attr("text-anchor","middle").attr("font-size",16.5).text("time (minutes)");
  // y label
  if (p.od) {
    const t = g.append("text").attr("transform",`translate(${p.od.x},${(yT+yB)/2}) rotate(-90)`)
      .attr("text-anchor","middle").attr("font-size",17.5).attr("dy","0.35em");
    t.append("tspan").text("OD");
    t.append("tspan").attr("font-size",p.od.sub).attr("dy",4).text("600");
  }
  // legend
  const L = p.legend;
  L.items.forEach(([lab,sub,c,ly]) => {
    g.append("line").attr("x1",L.lx0).attr("x2",L.lx1).attr("y1",ly).attr("y2",ly).attr("stroke",c).attr("stroke-width",1.6);
    g.append("circle").attr("cx",(L.lx0+L.lx1)/2).attr("cy",ly).attr("r",3.2).attr("fill",c);
    const t = g.append("text").attr("x",L.tx).attr("y",ly+5.5).attr("font-size",16.5)
      .attr("font-style", lab==="WT" ? "normal" : "italic").attr("fill","#2a1212");
    t.append("tspan").text(lab);
    if (sub) t.append("tspan").attr("font-size",10.5).attr("font-style","italic").attr("dy",4.5).text(sub);
  });
});

// ---------------- PANEL B ----------------
{
  const bx0 = 103.4, bx1 = 1033.9, by0 = 1079, by1 = 877.3;
  const xb = d3.scaleBand().domain(strains).range([bx0,bx1]).paddingInner(0.46).paddingOuter(0.09);
  const yb = d3.scaleLinear().domain([0,8]).range([by0,by1]);
  const g = svg.append("g");
  g.append("text").attr("x",25).attr("y",883).attr("font-size",23).attr("font-weight","bold").text("B");
  g.append("rect").attr("x",bx0).attr("y",yb(wtRange[1])).attr("width",bx1-bx0-1).attr("height",yb(wtRange[0])-yb(wtRange[1])).attr("fill","#dcdcdc");
  wtRange.forEach(v => g.append("line").attr("x1",bx0).attr("x2",bx1-1).attr("y1",yb(v)).attr("y2",yb(v))
    .attr("stroke","#555").attr("stroke-width",1.2).attr("stroke-dasharray","1.5,2.5"));
  g.selectAll("rect.bar").data(strains).join("rect").attr("class","bar")
    .attr("x",d=>xb(d)).attr("width",xb.bandwidth())
    .attr("y",(d,i)=>yb(growthRate[i])).attr("height",(d,i)=>by0-yb(growthRate[i]))
    .attr("fill",d=>reducedGrowthStrains.includes(d) ? "#e0497a" : "#6478b8");
  strains.forEach((s,i) => {
    const cx = xb(s)+xb.bandwidth()/2, a = yb(growthRate[i]+growthErr[i]), b = yb(growthRate[i]-growthErr[i]);
    g.append("path").attr("d",`M${cx},${a}V${b}M${cx-5.3},${a}H${cx+5.3}M${cx-5.3},${b}H${cx+5.3}`)
      .attr("stroke", s==="Bsc5" ? "#444" : "#111").attr("stroke-width",1.6).attr("fill","none");
  });
  const ya = g.append("g").attr("transform",`translate(${bx0},0)`)
    .call(d3.axisLeft(yb).tickValues(yTicksB).tickSize(6).tickSizeOuter(0).tickPadding(3));
  styleAxis(ya, 15.5);
  const xa = g.append("g").attr("transform",`translate(0,${by0})`)
    .call(d3.axisBottom(xb).tickSize(8).tickSizeOuter(0).tickPadding(3));
  styleAxis(xa, 16);
  xa.select(".domain").attr("d",`M${bx0},0.5H${bx1}`);
  xa.selectAll(".tick text").attr("text-anchor","end").attr("dy",0).attr("y",0)
    .attr("transform","translate(4,16) rotate(-45)");
  // y label
  g.append("text").attr("transform","translate(43,978) rotate(-90)").attr("text-anchor","middle").attr("font-size",16.5).attr("dy","0.35em").text("max growth rate");
  const t2 = g.append("text").attr("transform","translate(61,978) rotate(-90)").attr("text-anchor","middle").attr("font-size",16.5).attr("dy","0.35em");
  t2.append("tspan").text("(OD");
  t2.append("tspan").attr("font-size",9).attr("dy",4).text("600");
  t2.append("tspan").attr("dy",-4).text("/min x 10");
  t2.append("tspan").attr("font-size",9).attr("dy",-6).text("3");
  t2.append("tspan").attr("dy",6).text(")");
  // WT range bracket
  g.append("path").attr("d",`M1040,${yb(wtRange[1])}H1049V${yb(wtRange[0])}H1040`).attr("fill","none").attr("stroke","#000").attr("stroke-width",1.6);
  g.append("text").attr("x",1053).attr("y",941).attr("font-size",16).text("WT");
  g.append("text").attr("x",1053).attr("y",958).attr("font-size",16).text("range");
  // strain line
  g.append("line").attr("x1",bx0).attr("x2",bx1).attr("y1",1144).attr("y2",1144).attr("stroke","#000").attr("stroke-width",1.6);
  g.append("text").attr("x",568).attr("y",1162).attr("text-anchor","middle").attr("font-size",16).text("ΔHSE strain");
}

// ---------------- PANEL C ----------------
{
  const g = svg.append("g");
  g.append("text").attr("x",25).attr("y",1193).attr("font-size",23).attr("font-weight","bold").text("C");
  const L = {cx:494.5, cy:1258.5, rx:206.5, ry:74.5}, R = {cx:643, cy:1258.5, rx:206, ry:74.5};
  const defs = svg.append("defs");
  defs.append("clipPath").attr("id","clipR").append("ellipse").attr("cx",R.cx).attr("cy",R.cy).attr("rx",R.rx).attr("ry",R.ry);
  defs.append("clipPath").attr("id","clipL").append("ellipse").attr("cx",L.cx).attr("cy",L.cy).attr("rx",L.rx).attr("ry",L.ry);
  g.append("ellipse").attr("cx",L.cx).attr("cy",L.cy).attr("rx",L.rx).attr("ry",L.ry).attr("fill","#f0b4c9");
  g.append("ellipse").attr("cx",R.cx).attr("cy",R.cy).attr("rx",R.rx).attr("ry",R.ry).attr("fill","#aee3f6");
  g.append("ellipse").attr("cx",L.cx).attr("cy",L.cy).attr("rx",L.rx).attr("ry",L.ry).attr("fill","#fff").attr("clip-path","url(#clipR)");
  g.append("ellipse").attr("cx",L.cx).attr("cy",L.cy).attr("rx",L.rx).attr("ry",L.ry).attr("fill","none").attr("stroke","#111").attr("stroke-width",1.6).attr("clip-path","url(#clipR)");
  g.append("ellipse").attr("cx",R.cx).attr("cy",R.cy).attr("rx",R.rx).attr("ry",R.ry).attr("fill","none").attr("stroke","#111").attr("stroke-width",1.6).attr("clip-path","url(#clipL)");
  const col = (arr, xc, y0, dy) => arr.forEach((s,i) => g.append("text").attr("x",xc).attr("y",y0+i*dy)
      .attr("text-anchor","middle").attr("font-size",16).text(s));
  col(vennLeftLabel, 246, 1242, 17.5);
  col(vennLeftOnly, 383, 1232, 18.3);
  col(vennBoth, 567, 1227, 17.3);
  col(vennRightOnly, 756, 1245, 18);
  col(vennRightLabel, 900, 1242, 17.8);
}
</script>
</body></html>
